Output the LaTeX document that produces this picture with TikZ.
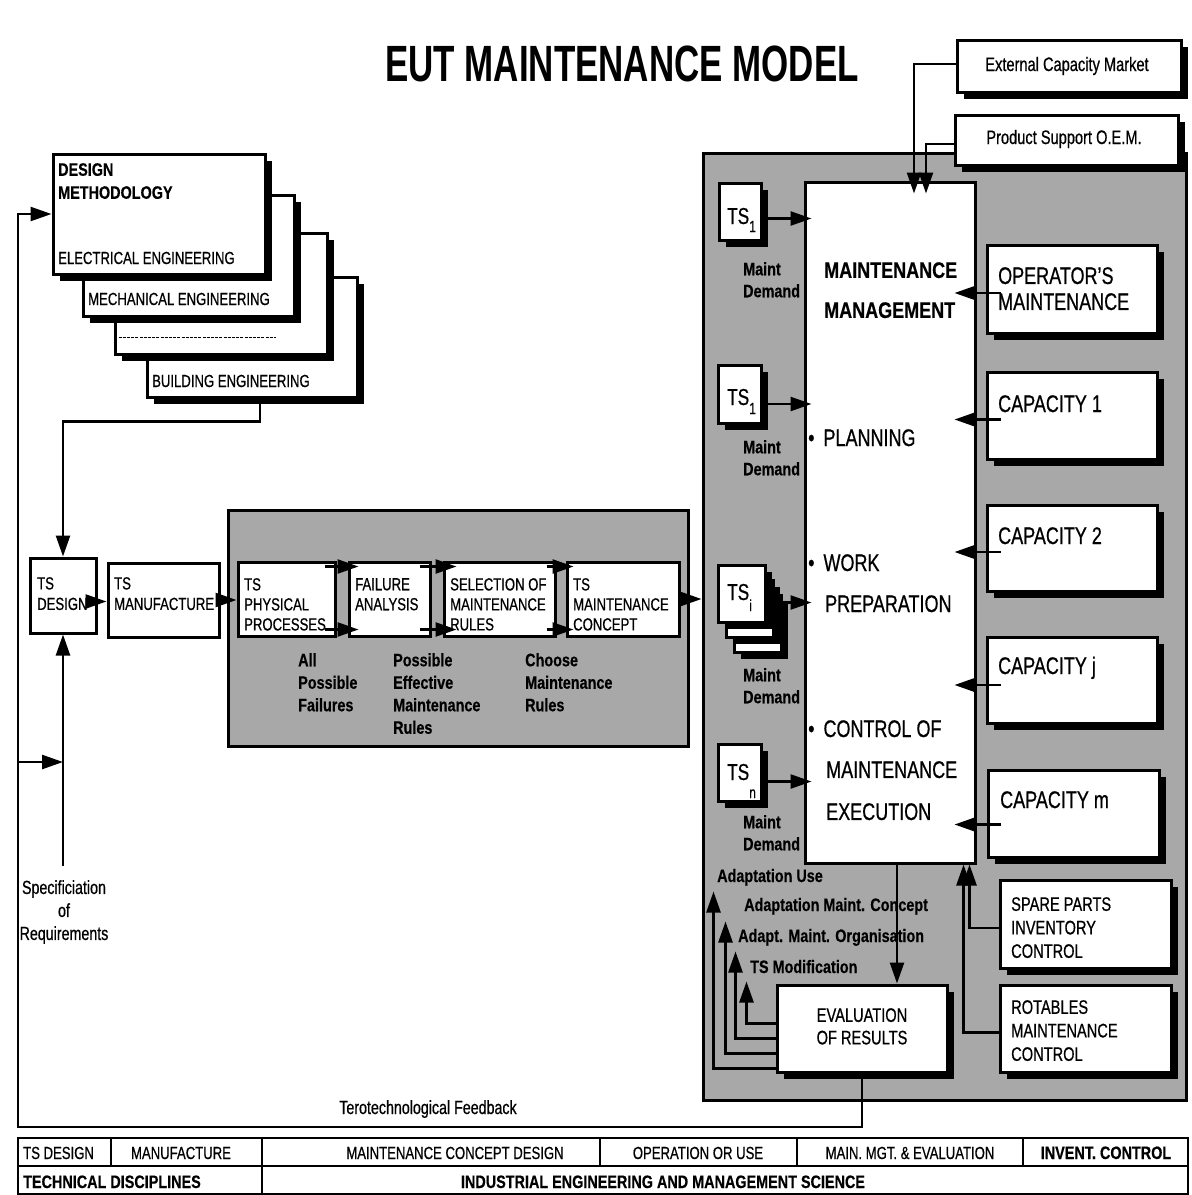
\documentclass[tikz,border=0pt]{standalone}
\usepackage{fontspec}
\setmainfont{Liberation Sans}[FakeStretch=0.75,FakeBold=0.6,BoldFeatures={FakeStretch=0.8,FakeBold=0.4}]
\newfontfamily\titlefont{Liberation Sans}[FakeStretch=0.685]
\usetikzlibrary{arrows.meta,shadows,fit,calc}
\newcommand\fsz[2]{\fontsize{#1pt}{#2pt}\selectfont}
\definecolor{stipple}{gray}{0.66}
\begin{document}
\begin{tikzpicture}[x=1pt,y=-1pt,
  bx/.style={draw, line width=3pt, fill=white, inner sep=0pt},
  sbx/.style={bx, general shadow={fill=black, shadow xshift=7pt, shadow yshift=-7pt}},
  greybox/.style={draw, line width=3pt, fill=stipple, inner sep=0pt},
  conn/.style={line width=2.5pt},
  arr/.style={conn, -{Triangle[length=21pt,width=14pt]}},
  txt/.style={inner sep=0pt, anchor=base west},
  ctxt/.style={inner sep=0pt, anchor=base},
  mtxt/.style={inner sep=0pt, anchor=north west, align=left},
  cell/.style={draw, line width=2.8pt, inner sep=0pt},
]
% page
\fill[white] (0,0) rectangle (1192,1195);
\useasboundingbox (0,0) rectangle (1192,1195);

% title
\node[ctxt, font=\titlefont\bfseries\fsz{51}{51}] (title) at (622,81) {EUT MAINTENANCE MODEL};

% ---------- technical disciplines stack ----------
\node[sbx, fit={(147,277)(357,397)}] (be) {};
\node[sbx, fit={(115,233)(327,354)}] (dd) {};
\node[sbx, fit={(83,195)(294,316)}] (me) {};
\node[sbx, fit={(53,154)(265,274)}] (dm) {};
\node[mtxt, font=\fsz{18}{23}\bfseries] (dmt) at (58,163) {DESIGN\\METHODOLOGY};
\node[txt, font=\fsz{17.5}{21}] (eet) at (58,264) {ELECTRICAL ENGINEERING};
\node[txt, font=\fsz{17.5}{21}] (met) at (88,305) {MECHANICAL ENGINEERING};
\draw[line width=1.3pt, dash pattern=on 3pt off 1.2pt] ($(dd.west)+(5,44)$) -- ($(dd.west)+(162,44)$);
\node[txt, font=\fsz{17.5}{21}] (bet) at (152,387) {BUILDING ENGINEERING};

% ---------- TS design / manufacture ----------
\node[bx, fit={(30,558)(96,633)}] (tsd) {};
\node[mtxt, font=\fsz{17.5}{20.5}] (tsdt) at (37,577) {TS\\DESIGN};
\node[bx, fit={(108,563)(219,637)}] (tsm) {};
\node[mtxt, font=\fsz{17.5}{20.5}] (tsmt) at (114,577) {TS\\MANUFACTURE};

\node[inner sep=0pt, anchor=north, align=center, font=\fsz{19}{23}] (spec) at (64,880) {Specificiation\\of\\Requirements};

% ---------- maintenance concept design ----------
\node[greybox, fit={(228,510)(688,746)}] (g1) {};
\node[bx, fit={(238,562)(335,636)}] (p1) {};
\node[bx, fit={(349,562)(430,636)}] (p2) {};
\node[bx, fit={(444,562)(555,636)}] (p3) {};
\node[bx, fit={(567,562)(679,636)}] (p4) {};
\node[mtxt, font=\fsz{17.5}{20}] (p1t) at (244,578) {TS\\PHYSICAL\\PROCESSES};
\node[mtxt, font=\fsz{17.5}{20}] (p2t) at (355,578) {FAILURE\\ANALYSIS};
\node[mtxt, font=\fsz{17.5}{20}] (p3t) at (450,578) {SELECTION OF\\MAINTENANCE\\RULES};
\node[mtxt, font=\fsz{17.5}{20}] (p4t) at (573,578) {TS\\MAINTENANCE\\CONCEPT};
\node[mtxt, font=\fsz{18}{22.5}\bfseries] (f1) at (298,653) {All\\Possible\\Failures};
\node[mtxt, font=\fsz{18}{22.5}\bfseries] (f2) at (393,653) {Possible\\Effective\\Maintenance\\Rules};
\node[mtxt, font=\fsz{18}{22.5}\bfseries] (f3) at (525,653) {Choose\\Maintenance\\Rules};

% ---------- maintenance management area ----------
\node[greybox, fit={(703,153)(1186,1100)}] (g2) {};
\node[sbx, fit={(957,40)(1181,92)}] (ex) {};
\node[sbx, fit={(955,115)(1178,165)}] (ps) {};
\node[ctxt, font=\fsz{19.5}{22}] (ext) at (1067,71) {External Capacity Market};
\node[ctxt, font=\fsz{19.5}{22}] (pst) at (1064,144) {Product Support O.E.M.};

\node[bx, fit={(805,182)(975,863)}] (mm) {};
\node[mtxt, font=\fsz{22.5}{40}\bfseries] (mmt) at (824,262) {MAINTENANCE\\MANAGEMENT};
\node[txt, font=\fsz{24}{41}] (plan) at (808,446) {\textbullet\hspace{9pt}PLANNING};
\node[txt, font=\fsz{24}{41}] (work) at (808,571) {\textbullet\hspace{9pt}WORK};
\node[txt, font=\fsz{24}{41}] (prep) at (825,612) {PREPARATION};
\node[txt, font=\fsz{24}{41}] (ctrl) at (808,737) {\textbullet\hspace{9pt}CONTROL OF};
\node[mtxt, font=\fsz{24}{42}] (exec) at (826,761) {MAINTENANCE\\EXECUTION};

% technical systems with maintenance demand
\node[sbx, fit={(719,183)(761,240)}] (ts1) {};
\node[txt, font=\fsz{23}{23}] (ts1t) at (727,224) {TS\raisebox{-8pt}{\fsz{16}{16}1}};
\node[sbx, fit={(718,365)(761,423)}] (ts2) {};
\node[txt, font=\fsz{23}{23}] (ts2t) at (727,405) {TS\raisebox{-9pt}{\fsz{16}{16}1}};
\node[sbx, fit={(734,595)(781,652)}] (tsi3) {};
\node[sbx, fit={(726,580)(773,637)}] (tsi2) {};
\node[sbx, fit={(718,565)(765,622)}] (tsi) {};
\node[txt, font=\fsz{23}{23}] (tsit) at (727,600) {TS\raisebox{-11pt}{\fsz{16}{16}i}};
\node[sbx, fit={(718,744)(761,801)}] (tsn) {};
\node[txt, font=\fsz{23}{23}] (tsnt) at (727,780) {TS\raisebox{-18pt}{\fsz{16}{16}n}};
\node[mtxt, font=\fsz{18}{22}\bfseries] (md1) at (743,262) {Maint\\Demand};
\node[mtxt, font=\fsz{18}{22}\bfseries] (md2) at (743,440) {Maint\\Demand};
\node[mtxt, font=\fsz{18}{22}\bfseries] (mdi) at (743,668) {Maint\\Demand};
\node[mtxt, font=\fsz{18}{22}\bfseries] (mdn) at (743,815) {Maint\\Demand};

% capacities
\node[sbx, fit={(987,245)(1157,333)}] (op) {};
\node[mtxt, font=\fsz{24}{26}] (opt) at (998,267) {OPERATOR'S\\MAINTENANCE};
\node[sbx, fit={(987,372)(1157,459)}] (c1) {};
\node[txt, font=\fsz{24}{26}] (c1t) at (998,412) {CAPACITY 1};
\node[sbx, fit={(987,505)(1157,591)}] (c2) {};
\node[txt, font=\fsz{24}{26}] (c2t) at (998,544) {CAPACITY 2};
\node[sbx, fit={(987,637)(1157,723)}] (cj) {};
\node[txt, font=\fsz{24}{26}] (cjt) at (998,674) {CAPACITY j};
\node[sbx, fit={(988,770)(1159,857)}] (cm) {};
\node[txt, font=\fsz{24}{26}] (cmt) at (1000,808) {CAPACITY m};

\node[sbx, fit={(1000,880)(1171,968)}] (sp) {};
\node[mtxt, font=\fsz{19.5}{23.5}] (spt) at (1011,897) {SPARE PARTS\\INVENTORY\\CONTROL};
\node[sbx, fit={(1000,985)(1171,1072)}] (ro) {};
\node[mtxt, font=\fsz{19.5}{23.5}] (rot) at (1011,1000) {ROTABLES\\MAINTENANCE\\CONTROL};

\node[sbx, fit={(777,985)(947,1072)}] (ev) {};
\node[inner sep=0pt, anchor=north, align=center, font=\fsz{19.5}{22.5}] (evt) at (862,1008) {EVALUATION\\OF RESULTS};

% feedback labels
\node[txt, font=\fsz{18}{20}\bfseries] (la) at (717,882) {Adaptation Use};
\node[txt, font=\fsz{18}{20}\bfseries] (lb) at (744,911) {Adaptation Maint. Concept};
\node[txt, font=\fsz{18}{20}\bfseries] (lc) at (738,942) {Adapt. Maint. Organisation};
\node[txt, font=\fsz{18}{20}\bfseries] (ld) at (750,973) {TS Modification};

\node[ctxt, font=\fsz{19}{22}] (terot) at (428,1114) {Terotechnological Feedback};

% ---------- bottom table ----------
\node[cell, fit={(18,1138)(111,1166)}] (r1a) {};
\node[cell, fit={(111,1138)(262,1166)}] (r1b) {};
\node[cell, fit={(262,1138)(600,1166)}] (r1c) {};
\node[cell, fit={(600,1138)(797,1166)}] (r1d) {};
\node[cell, fit={(797,1138)(1023,1166)}] (r1e) {};
\node[cell, fit={(1023,1138)(1188,1166)}] (r1f) {};
\node[cell, fit={(18,1166)(262,1194)}] (r2a) {};
\node[cell, fit={(262,1166)(1188,1194)}] (r2b) {};
\node[txt, font=\fsz{17.5}{20}] (r1at) at (23,1159) {TS DESIGN};
\node[ctxt, font=\fsz{17.5}{20}] (r1bt) at (181,1159) {MANUFACTURE};
\node[ctxt, font=\fsz{17.5}{20}] (r1ct) at (455,1159) {MAINTENANCE CONCEPT DESIGN};
\node[ctxt, font=\fsz{17.5}{20}] (r1dt) at (698,1159) {OPERATION OR USE};
\node[ctxt, font=\fsz{17.5}{20}] (r1et) at (910,1159) {MAIN. MGT. \& EVALUATION};
\node[ctxt, font=\fsz{18}{20}\bfseries] (r1ft) at (1106,1159) {INVENT. CONTROL};
\node[txt, font=\fsz{18}{20}\bfseries] (r2at) at (23,1188) {TECHNICAL DISCIPLINES};
\node[ctxt, font=\fsz{18}{20}\bfseries] (r2bt) at (663,1188) {INDUSTRIAL ENGINEERING AND MANAGEMENT SCIENCE};

% ---------- connectors ----------
% design stack to TS design
\draw[arr] ([xshift=8pt]be.south) -- ++(0,23) -| (tsd.north);
% terotechnological feedback loop
\coordinate (fb) at (18,1127);
\draw[arr] (ev.south) |- (fb) |- (dm.west);
\coordinate (fbs) at (18,762);
\coordinate (sptop) at ($(spec.north -| tsd.south)+(0,-14)$);
\draw[arr] (fbs) -- (fbs -| sptop);
\draw[arr] (sptop) -- (tsd.south);
% main chain
\coordinate (a0) at ($(tsd.east)+(0,6)$);
\draw[arr] (a0) -- (a0 -| tsm.west);
\draw[arr] (tsm.east) -- (tsm.east -| p1.west);
\draw[arr] ($(p1.north east)+(-12,6)$) -- ($(p2.north west)+(11,6)$);
\draw[arr] ($(p1.south east)+(-12,-8)$) -- ($(p2.south west)+(11,-8)$);
\draw[arr] ($(p2.north east)+(-12,6)$) -- ($(p3.north west)+(14,6)$);
\draw[arr] ($(p2.south east)+(-12,-8)$) -- ($(p3.south west)+(14,-8)$);
\draw[arr] ($(p3.north east)+(-10,6)$) -- ($(p4.north west)+(8,6)$);
\draw[arr] ($(p3.south east)+(-10,-8)$) -- ($(p4.south west)+(8,-8)$);
\draw[arr] (p4.east) -- (p4.east -| g2.west);
% maintenance demand
\coordinate (d1) at ($(ts1.east)+(0,7)$);
\draw[arr, shorten >=-8pt] (d1) -- (d1 -| mm.west);
\coordinate (d2) at ($(ts2.east)+(0,10)$);
\draw[arr, shorten >=-8pt] (d2) -- (d2 -| mm.west);
\coordinate (d3) at ($(tsi.east)+(0,9)$);
\draw[arr, shorten >=-8pt] (d3) -- (d3 -| mm.west);
\coordinate (d4) at ($(tsn.east)+(0,9)$);
\draw[arr, shorten >=-8pt] (d4) -- (d4 -| mm.west);
% external inputs
\coordinate (mx1) at ($(mm.north)+(24,0)$);
\coordinate (mx2) at ($(mm.north)+(36,0)$);
\draw[arr, shorten >=-13pt] ($(ex.west)+(0,-2)$) -| (mx1);
\draw[arr, shorten >=-13pt] ($(ps.west)+(0,4)$) -| (mx2);
% capacities
\coordinate (k0) at ($(op.west)+(15,4)$);
\draw[arr, shorten >=-22pt] (k0) -- (k0 -| mm.east);
\coordinate (k1) at ($(c1.west)+(15,4)$);
\draw[arr, shorten >=-22pt] (k1) -- (k1 -| mm.east);
\coordinate (k2) at ($(c2.west)+(15,4)$);
\draw[arr, shorten >=-22pt] (k2) -- (k2 -| mm.east);
\coordinate (k3) at ($(cj.west)+(15,5)$);
\draw[arr, shorten >=-22pt] (k3) -- (k3 -| mm.east);
\coordinate (k4) at ($(cm.west)+(14,11)$);
\draw[arr, shorten >=-22pt] (k4) -- (k4 -| mm.east);
% inventory control
\draw[arr] ($(sp.west)+(0,4)$) -| ($(mm.south east)+(-7,0)$);
\draw[arr] ($(ro.west)+(0,4)$) -| ($(mm.south east)+(-13,0)$);
% evaluation
\coordinate (mo) at ($(mm.south)+(7,0)$);
\draw[arr] (mo) -- (mo |- ev.north);
\coordinate (e1) at ($(ev.north west)+(0,40)$);
\coordinate (e2) at ($(ev.north west)+(0,55)$);
\coordinate (e3) at ($(ev.north west)+(0,70)$);
\coordinate (e4) at ($(ev.north west)+(0,85)$);
\coordinate (u1) at ($(ev.north west)+(-29,-2)$);
\coordinate (u2) at ($(ev.north west)+(-40,-32)$);
\coordinate (u3) at ($(ev.north west)+(-50,-62)$);
\coordinate (u4) at ($(ev.north west)+(-62,-92)$);
\draw[arr] (e1) -| (u1);
\draw[arr] (e2) -| (u2);
\draw[arr] (e3) -| (u3);
\draw[arr] (e4) -| (u4);
\end{tikzpicture}
\end{document}
